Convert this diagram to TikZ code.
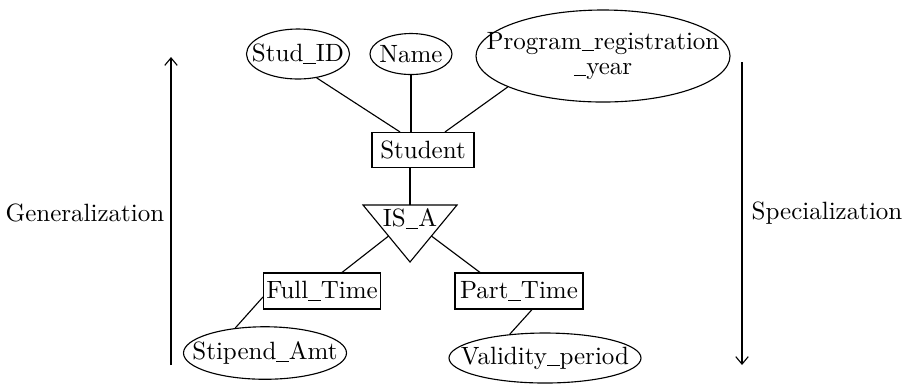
\documentclass[tikz,border=0pt]{standalone}
\usetikzlibrary{shapes.geometric,calc,arrows.meta}
\newcommand\usc{\rule[-0.8pt]{5pt}{0.4pt}}
\begin{document}
\begin{tikzpicture}[x=0.4pt,y=-0.4pt,line width=0.45pt,
  attr/.style={draw,ellipse,inner sep=0pt},
  ent/.style={draw,rectangle,inner sep=0pt},
  lbl/.style={inner sep=0pt},
  dirarrow/.style={-{Straight Barb[length=3pt,width=5pt]}}]
\useasboundingbox (0,0) rectangle (910,383);
% attributes of Student
\node[attr,minimum width=41.2pt,minimum height=20pt,label={center:Stud\usc ID}] (studid) at (298,54) {};
\node[attr,minimum width=32.8pt,minimum height=16.4pt,label={center:Name}] (name) at (411,54) {};
\node[attr,minimum width=101.6pt,minimum height=36.8pt,label={[align=center]center:Program\usc registration\\[-2pt]\usc year}] (prog) at (603,56) {};
% entity
\node[ent,minimum width=40.8pt,minimum height=14pt] (student) at (423,150) {Student};
% IS_A triangle
\coordinate (tl) at (363,205);
\coordinate (tr) at (457,205);
\coordinate (tb) at (410,262);
\coordinate (isatop) at (410,205);
\draw (tl) -- (tr) -- (tb) -- cycle;
\node[lbl] (isa) at (410,219) {IS\usc A};
\coordinate (isaleft) at ($(tl)!0.544!(tb)$);
\coordinate (isaright) at ($(tr)!0.544!(tb)$);
% subclasses
\node[ent,minimum width=46.8pt,minimum height=14.4pt] (ft) at (322,291) {Full\usc Time};
\node[ent,minimum width=51.2pt,minimum height=14.4pt] (pt) at (519,291) {Part\usc Time};
\node[attr,minimum width=65.2pt,minimum height=21pt,label={center:Stipend\usc Amt}] (stip) at (265,353) {};
\node[attr,minimum width=76.8pt,minimum height=20pt,label={center:Validity\usc period}] (val) at (545,358) {};
% connectors
\draw (studid.-52) -- ($(student.north)+(-23,0)$);
\draw (name.south) -- (name.south |- student.north);
\draw (prog.198) -- ($(student.north)+(22,0)$);
\draw (isatop) -- (isatop |- student.south);
\draw (isaleft) -- ($(ft.north)+(20,0)$);
\draw (isaright) -- ($(pt.north)+(-39,0)$);
\draw ($(ft.west)+(0,6)$) -- (stip.140);
\draw ($(pt.south)+(13,0)$) -- (val.146);
% side arrows
\coordinate (gbot) at (171,365);
\coordinate (gtop) at (171,57);
\coordinate (stop) at (742,62);
\coordinate (sbot) at (742,365);
\draw[dirarrow] (gbot) -- (gtop);
\draw[dirarrow] (stop) -- (sbot);
\node[lbl] (gen) at (85,213) {Generalization};
\node[lbl] (spec) at (827,213) {Specialization};
\end{tikzpicture}
\end{document}
